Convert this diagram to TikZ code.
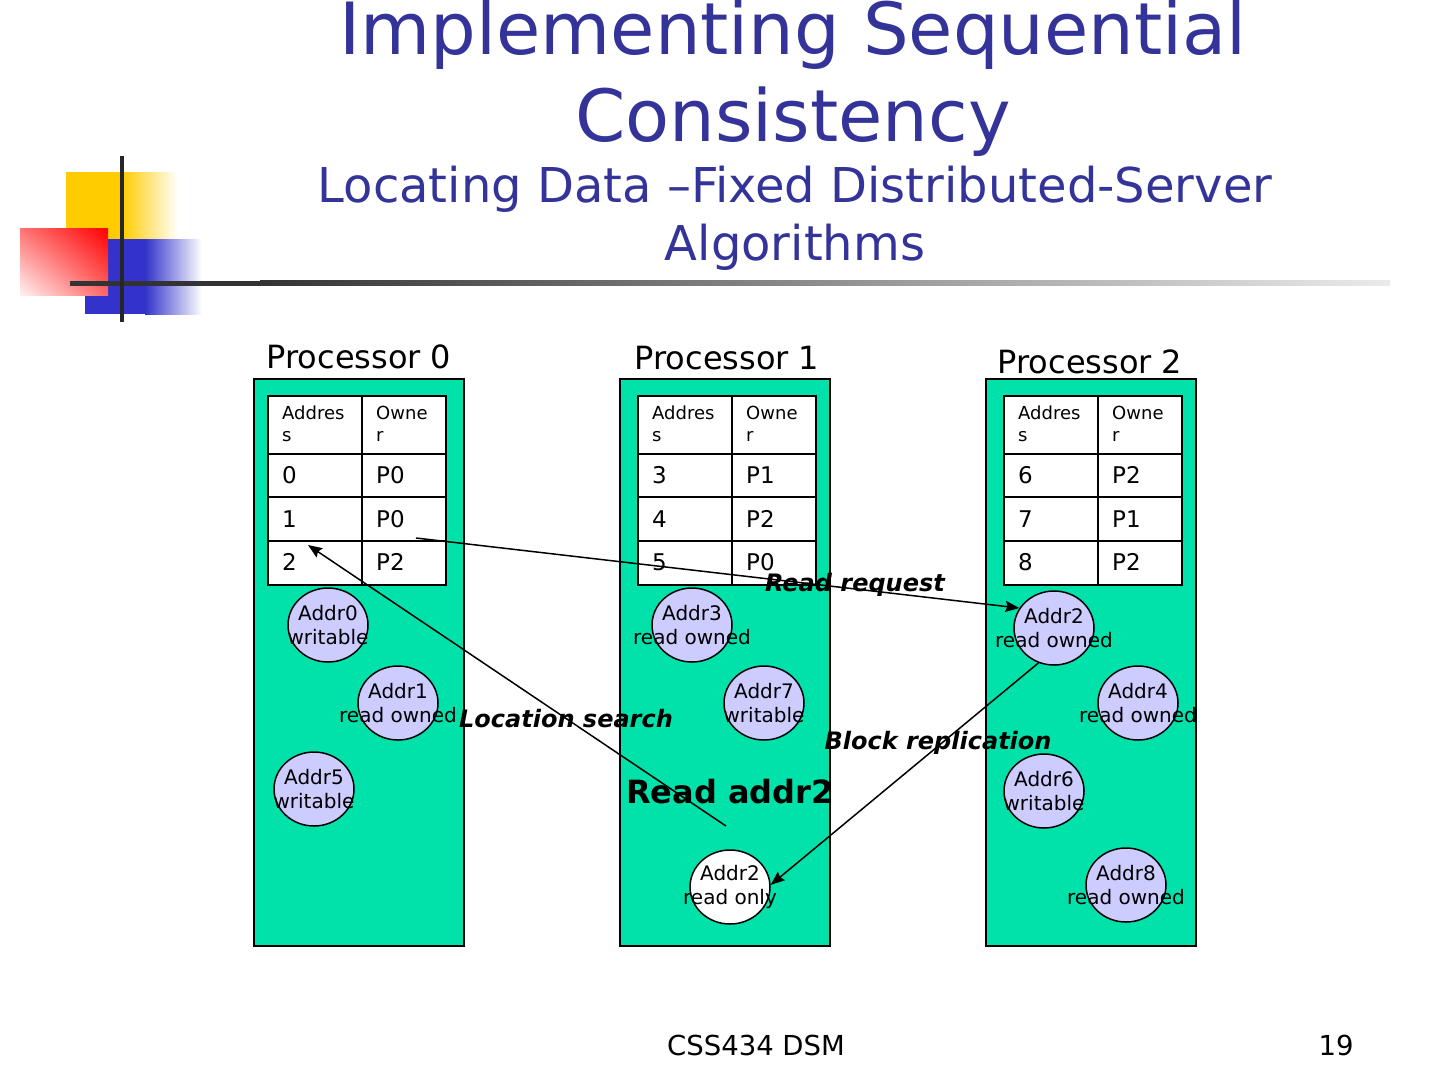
\documentclass[tikz,border=0pt]{standalone}
\usepackage{fontspec}
\setmainfont{DejaVu Sans}
\usetikzlibrary{shapes.geometric,arrows.meta,shadings}

\definecolor{slideblue}{RGB}{51,51,153}
\definecolor{procgreen}{RGB}{0,226,170}
\definecolor{addrlilac}{RGB}{204,204,255}
\definecolor{logoyellow}{RGB}{255,204,0}
\definecolor{logoblue}{RGB}{51,51,204}
\definecolor{rulegray}{RGB}{51,51,51}

\tikzset{
  procbox/.style={draw, line width=2.5pt, fill=procgreen},
  proclabel/.style={anchor=base, font=\fontsize{32}{38}\selectfont},
  tableframe/.style={draw, line width=2.5pt},
  tableline/.style={line width=1.2pt},
  headtext/.style={anchor=north west, inner sep=0pt, align=left, font=\fontsize{18}{22}\selectfont},
  celltext/.style={anchor=base west, inner sep=0pt, font=\fontsize{23}{27}\selectfont},
  addr/.style={ellipse, draw, line width=1.5pt, fill=addrlilac, minimum width=80pt, minimum height=74pt, inner sep=0pt},
  addrtext/.style={inner sep=0pt, align=center, font=\fontsize{20}{24}\selectfont},
  conn/.style={line width=1.5pt, -{Stealth[length=14pt,width=11pt,inset=2pt]}},
  connlabel/.style={anchor=base, font=\fontsize{24}{28}\selectfont\bfseries\itshape},
  footer/.style={anchor=base, font=\fontsize{27.5}{32}\selectfont},
}

\begin{document}
\begin{tikzpicture}[x=1pt,y=-1pt]
        \fill[white] (0,0) rectangle (1440,1080);
        \useasboundingbox (0,0) rectangle (1440,1080);

        % logo
        \fill[logoyellow] (66,172) rectangle (122,245);
        \shade[left color=logoyellow, right color=white] (122,172) rectangle (178,245);
        \fill[logoblue] (85,239) rectangle (145,314);
        \shade[left color=logoblue, right color=white] (145,239) rectangle (202,314);
        \shade[upper left=red!55, upper right=red, lower left=red!5, lower right=red!60] (20,228) rectangle (108,295);
        \fill[rulegray] (70,280.5) rectangle (260,285.5);
        \shade[left color=rulegray, right color=black!8] (260,280.5) rectangle (1390,285.5);
        \draw[line width=4pt, black!85] (122,156) -- (122,322);

        % title
        \node[anchor=north, inner sep=0pt, align=center, text=slideblue, font=\fontsize{72}{87}\selectfont] (title) at (793,0) {Implementing Sequential\\Consistency};
        \node[anchor=north, inner sep=0pt, align=center, text=slideblue, font=\fontsize{48}{58}\selectfont] (subtitle) at (795,165.5) {Locating Data –Fixed Distributed-Server\\Algorithms};

        % processors with their tables
        \foreach \pn/\bx/\tx/\lx/\ly/\adA/\adB/\adC/\owA/\owB/\owC in {
            0/254/268/359/368/0/1/2/P0/P0/P2,
            1/620/638/727/369/3/4/5/P1/P2/P0,
            2/986/1004/1090/373/6/7/8/P2/P1/P2}
        {
            \draw[procbox] (\bx,379) rectangle (\bx+210,946);
            \node[proclabel] (label\pn) at (\lx,\ly) {Processor \pn};
            \fill[white] (\tx,396) rectangle (\tx+178,585);
            \draw[tableline] (\tx+94,396) -- (\tx+94,585);
            \draw[tableline] (\tx,454) -- (\tx+178,454);
            \draw[tableline] (\tx,497) -- (\tx+178,497);
            \draw[tableline] (\tx,541) -- (\tx+178,541);
            \draw[tableframe] (\tx,396) rectangle (\tx+178,585);
            \node[headtext] at (\tx+14,406) {Addres\\s};
            \node[headtext] at (\tx+108,406) {Owne\\r};
            \node[celltext] at (\tx+14,483) {\adA};
            \node[celltext] at (\tx+108,483) {\owA};
            \node[celltext] at (\tx+14,527) {\adB};
            \node[celltext] at (\tx+108,527) {\owB};
            \node[celltext] at (\tx+14,570) {\adC};
            \node[celltext] at (\tx+108,570) {\owC};
        }

        % blocks
        \node[addr, label={[addrtext]center:{Addr0\\writable}}] (p0a0) at (328,625) {};
        \node[addr, label={[addrtext]center:{Addr1\\read owned}}] (p0a1) at (398,703) {};
        \node[addr, label={[addrtext]center:{Addr5\\writable}}] (p0a5) at (314,789) {};
        \node[addr, label={[addrtext]center:{Addr3\\read owned}}] (p1a3) at (692,625) {};
        \node[addr, label={[addrtext]center:{Addr7\\writable}}] (p1a7) at (764,703) {};
        \node[addr, fill=white, label={[addrtext]center:{Addr2\\read only}}] (p1a2) at (730,887) {};
        \node[addr, label={[addrtext]center:{Addr2\\read owned}}] (p2a2) at (1054,628) {};
        \node[addr, label={[addrtext]center:{Addr4\\read owned}}] (p2a4) at (1138,703) {};
        \node[addr, label={[addrtext]center:{Addr6\\writable}}] (p2a6) at (1044,791) {};
        \node[addr, label={[addrtext]center:{Addr8\\read owned}}] (p2a8) at (1126,885) {};

        \node[anchor=base, font=\fontsize{32}{38}\selectfont\bfseries] (readaddr) at (730,803) {Read addr2};
        \node[connlabel] (rqlabel) at (855,591) {Read request};
        \node[connlabel] (lslabel) at (566,727) {Location search};
        \node[connlabel] (brlabel) at (938,749) {Block replication};

        % messages
        \coordinate (rqfrom) at (416,538);
        \coordinate (lsfrom) at (726,826);
        \coordinate (lsto) at (308,545);
        \draw[conn] (rqfrom) -- (p2a2.150);
        \draw[conn] (lsfrom) -- (lsto);
        \draw[conn] (p2a2.246) -- (p1a2.3);

        \node[footer] (foot) at (756,1055) {CSS434 DSM};
        \node[footer] (pageno) at (1336,1055) {19};

    \end{tikzpicture}
\end{document}
